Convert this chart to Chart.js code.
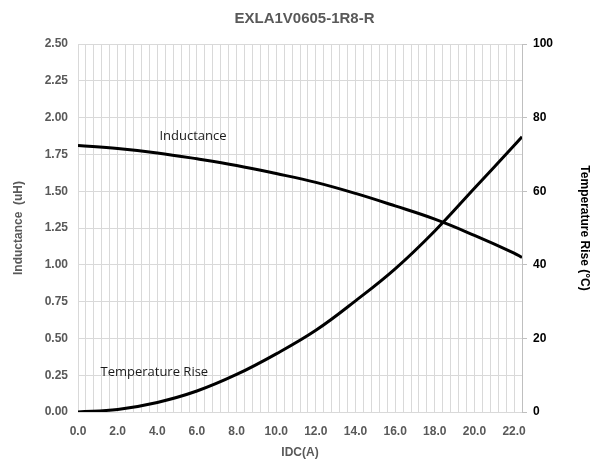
<!DOCTYPE html>
<html>
<head>
<meta charset="utf-8">
<script src="https://cdn.jsdelivr.net/npm/chart.js@4"></script>
<style>
  body { margin: 0; background: #fff; }
  #wrap { width: 609px; height: 465px; }
</style>
</head>
<body>
<div id="wrap"><canvas id="chart"></canvas></div>
<script>
// values
const current = [0, 2, 4, 6, 8, 10, 12, 14, 16, 18, 20, 22, 22.4];
const inductance = [1.81, 1.79, 1.76, 1.72, 1.675, 1.62, 1.56, 1.485, 1.40, 1.31, 1.20, 1.08, 1.05];
const tempRise = [0, 0.7, 2.6, 5.7, 10.2, 15.8, 22.2, 30.2, 38.9, 49.2, 60.8, 72.4, 74.8];

const chartTitle = 'EXLA1V0605-1R8-R';
const xTitle = 'IDC(A)';
const leftTitle = 'Inductance  (uH)';
const rightTitle = 'Temperature Rise (°C)';

// text labels placed next to the curves (x in A, y on the left axis)
const curveLabels = [
    {text: 'Inductance', x: 5.8, y: 1.87},
    {text: 'Temperature Rise', x: 3.85, y: 0.27}
];

const gray = '#595959';
const gridColor = '#d9d9d9';

const toPoints = (xs, ys) => xs.map((x, i) => ({x: x, y: ys[i]}));

// draws the curve names on the plot
const labelPlugin = {
    id: 'curveLabels',
    afterDatasetsDraw(chart) {
        const ctx = chart.ctx;
        const xs = chart.scales.x;
        const ys = chart.scales.y;
        ctx.save();
        ctx.font = '13px "Open Sans", sans-serif';
        ctx.fillStyle = '#1a1a1a';
        ctx.textAlign = 'center';
        ctx.textBaseline = 'middle';
        curveLabels.forEach(l => {
            ctx.fillText(l.text, xs.getPixelForValue(l.x), ys.getPixelForValue(l.y));
        });
        ctx.restore();
    }
};

const tickFont = {family: 'Arial, "Liberation Sans"', size: 12, weight: 'bold'};

new Chart(document.getElementById('chart'), {
    type: 'line',
    data: {
        datasets: [{
            label: 'Inductance',
            data: toPoints(current, inductance),
            yAxisID: 'y',
            borderColor: '#000',
            borderWidth: 3,
            pointRadius: 0,
            tension: 0.4
        }, {
            label: 'Temperature Rise',
            data: toPoints(current, tempRise),
            yAxisID: 'y1',
            borderColor: '#000',
            borderWidth: 3,
            pointRadius: 0,
            tension: 0.4
        }]
    },
    options: {
        responsive: true,
        maintainAspectRatio: false,
        animation: false,
        layout: {padding: 0},
        plugins: {
            legend: {display: false},
            tooltip: {enabled: false},
            title: {
                display: true,
                text: chartTitle,
                color: gray,
                font: {family: 'Arial, "Liberation Sans"', size: 15, weight: 'bold'},
                padding: {top: 10, bottom: 16}
            }
        },
        scales: {
            x: {
                type: 'linear',
                min: 0,
                max: 22.4,
                afterBuildTicks: (scale) => {
                    scale.ticks = [];
                    for (let i = 0; i <= 56; i++) scale.ticks.push({value: +(i * 0.4).toFixed(1)});
                },
                ticks: {
                    autoSkip: false,
                    maxRotation: 0,
                    color: gray,
                    font: tickFont,
                    padding: 12,
                    callback: (v, i) => i % 5 === 0 ? v.toFixed(1) : ''
                },
                grid: {color: gridColor, drawTicks: false},
                border: {color: gridColor},
                title: {
                    display: true,
                    text: xTitle,
                    color: gray,
                    font: {family: 'Arial, "Liberation Sans"', size: 12, weight: 'bold'},
                    padding: {top: 0, bottom: 5}
                },
                afterFit: (scale) => { scale.height = 53; }
            },
            y: {
                position: 'left',
                min: 0,
                max: 2.5,
                ticks: {
                    stepSize: 0.25,
                    color: gray,
                    font: tickFont,
                    padding: 10,
                    callback: (v) => v.toFixed(2)
                },
                grid: {color: gridColor, drawTicks: false},
                border: {color: gridColor},
                title: {
                    display: true,
                    text: leftTitle,
                    color: gray,
                    font: {family: 'Arial, "Liberation Sans"', size: 12, weight: 'bold'},
                    padding: {top: 11, bottom: 0}
                },
                afterFit: (scale) => { scale.width = 78; }
            },
            y1: {
                position: 'right',
                min: 0,
                max: 100,
                ticks: {
                    stepSize: 20,
                    color: '#000',
                    font: tickFont,
                    padding: 6
                },
                grid: {drawOnChartArea: false, color: '#bfbfbf', tickLength: 5},
                border: {color: '#bfbfbf'},
                title: {
                    display: true,
                    text: rightTitle,
                    color: '#000',
                    font: {family: 'Arial, "Liberation Sans"', size: 12, weight: 'bold'},
                    padding: {top: 17, bottom: 0}
                },
                afterFit: (scale) => { scale.width = 87; }
            }
        }
    },
    plugins: [labelPlugin]
});
</script>
</body>
</html>
